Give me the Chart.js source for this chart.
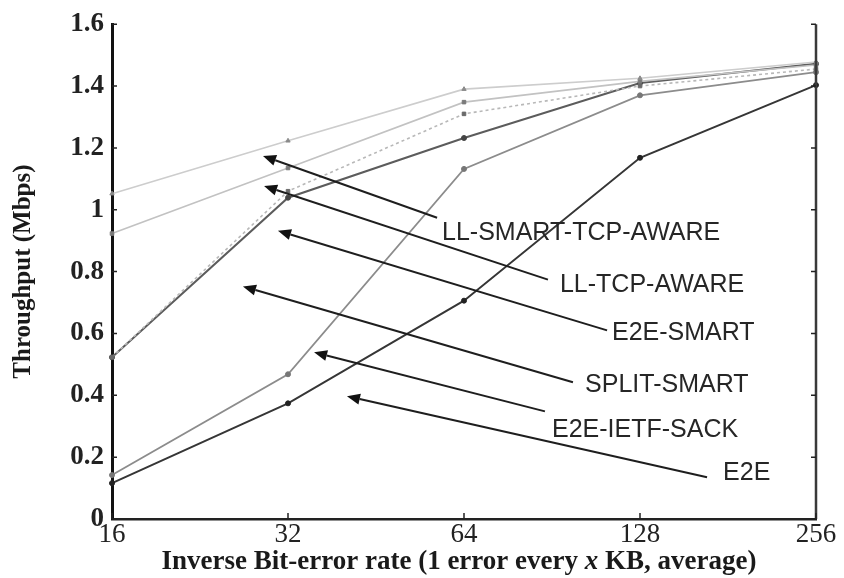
<!DOCTYPE html>
<html>
<head>
<meta charset="utf-8">
<script src="https://cdn.jsdelivr.net/npm/chart.js@4/dist/chart.umd.min.js"></script>
<style>
  html, body { margin: 0; padding: 0; background: #fff; }
  #wrap { width: 844px; height: 578px; }
</style>
</head>
<body>
<div id="wrap"><canvas id="c" width="844" height="578"></canvas></div>
<script>
// Inverse bit-error rate (1 error every x KB)
const errorSpacingKB = ['16', '32', '64', '128', '256'];

// Throughput in Mbps for each scheme
const llSmartTcpAware = [1.052, 1.223, 1.390, 1.425, 1.478];
const llTcpAware      = [0.923, 1.135, 1.348, 1.415, 1.468];
const splitSmart      = [0.523, 1.060, 1.310, 1.400, 1.455];
const e2eSmart        = [0.523, 1.039, 1.232, 1.410, 1.472];
const e2eIetfSack     = [0.142, 0.468, 1.132, 1.370, 1.445];
const e2e             = [0.116, 0.374, 0.706, 1.168, 1.403];

// Callout labels with arrows, in axis units (category index, Mbps)
const calloutText = ['LL-SMART-TCP-AWARE', 'LL-TCP-AWARE', 'E2E-SMART', 'SPLIT-SMART', 'E2E-IETF-SACK', 'E2E'];
const calloutTip  = [[0.858, 1.174], [0.864, 1.077], [0.943, 0.932], [0.744, 0.752], [1.148, 0.539], [1.335, 0.397]];
const calloutTail = [[1.847, 0.974], [2.477, 0.774], [2.813, 0.610], [2.619, 0.442], [2.460, 0.348], [3.381, 0.135]];
const calloutAt   = [[1.875, 0.926], [2.545, 0.755], [2.841, 0.600], [2.688, 0.432], [2.500, 0.287], [3.472, 0.148]];

const serif = "'Liberation Serif', 'DejaVu Serif', serif";
const sans = "'Liberation Sans', Arial, sans-serif";

function series(label, data, color, width, style, dash, pointColor) {
  return {
    label, data,
    borderColor: color,
    borderWidth: width,
    borderDash: dash || [],
    pointStyle: style,
    pointRadius: 2.5,
    pointBackgroundColor: pointColor,
    pointBorderColor: pointColor,
    pointBorderWidth: 1,
    tension: 0,
    fill: false
  };
}

// Inward tick marks, right frame line, callouts and the mixed-style x title
const decorations = {
  id: 'decorations',
  afterDraw(chart) {
    const { ctx, chartArea: a, scales: { x, y } } = chart;
    ctx.save();

    // right frame
    ctx.strokeStyle = '#3a3a3a';
    ctx.lineWidth = 2.5;
    ctx.beginPath();
    ctx.moveTo(a.right, a.top);
    ctx.lineTo(a.right, a.bottom);
    ctx.stroke();

    // inward ticks on left and right
    ctx.strokeStyle = '#222';
    ctx.lineWidth = 1.5;
    y.ticks.forEach(t => {
      const py = y.getPixelForValue(t.value);
      ctx.beginPath();
      ctx.moveTo(a.left, py); ctx.lineTo(a.left + 5, py);
      ctx.moveTo(a.right, py); ctx.lineTo(a.right - 5, py);
      ctx.stroke();
    });
    // inward ticks on bottom
    x.ticks.forEach((t, i) => {
      const px = x.getPixelForValue(i);
      ctx.beginPath();
      ctx.moveTo(px, a.bottom); ctx.lineTo(px, a.bottom - 6);
      ctx.stroke();
    });

    // callout arrows
    ctx.strokeStyle = '#1e1e1e';
    ctx.fillStyle = '#111';
    ctx.lineWidth = 2;
    calloutText.forEach((txt, i) => {
      const tx = x.getPixelForValue(calloutTip[i][0]);
      const ty = y.getPixelForValue(calloutTip[i][1]);
      const sx = x.getPixelForValue(calloutTail[i][0]);
      const sy = y.getPixelForValue(calloutTail[i][1]);
      const ang = Math.atan2(ty - sy, tx - sx);
      const headLen = 13, headHalf = 5.5;
      const bx = tx - headLen * Math.cos(ang), by = ty - headLen * Math.sin(ang);
      ctx.beginPath();
      ctx.moveTo(sx, sy); ctx.lineTo(bx, by);
      ctx.stroke();
      ctx.beginPath();
      ctx.moveTo(tx, ty);
      ctx.lineTo(bx + headHalf * Math.sin(ang), by - headHalf * Math.cos(ang));
      ctx.lineTo(bx - headHalf * Math.sin(ang), by + headHalf * Math.cos(ang));
      ctx.closePath();
      ctx.fill();

      ctx.font = '25px ' + sans;
      ctx.fillStyle = '#262626';
      ctx.textAlign = 'left';
      ctx.textBaseline = 'middle';
      ctx.fillText(txt, x.getPixelForValue(calloutAt[i][0]), y.getPixelForValue(calloutAt[i][1]));
      ctx.fillStyle = '#111';
    });

    // x axis title with italic variable
    const size = 27;
    const parts = [
      ['Inverse Bit-error rate (1 error every ', 'bold ' + size + 'px ' + serif],
      ['x', 'italic bold ' + size + 'px ' + serif],
      [' KB, average)', 'bold ' + size + 'px ' + serif]
    ];
    let total = 0;
    parts.forEach(p => { ctx.font = p[1]; total += ctx.measureText(p[0]).width; });
    let cx = (a.left + a.right) / 2 - 5 - total / 2;
    const cy = x.bottom - 16;
    ctx.fillStyle = '#1a1a1a';
    ctx.textBaseline = 'middle';
    ctx.textAlign = 'left';
    parts.forEach(p => {
      ctx.font = p[1];
      ctx.fillText(p[0], cx, cy);
      cx += ctx.measureText(p[0]).width;
    });
    ctx.restore();
  }
};

new Chart(document.getElementById('c'), {
  type: 'line',
  data: {
    labels: errorSpacingKB,
    datasets: [
      series('LL-SMART-TCP-AWARE', llSmartTcpAware, '#cdcdcd', 1.6, 'triangle', null, '#8a8a8a'),
      series('LL-TCP-AWARE', llTcpAware, '#c2c2c2', 1.6, 'rect', null, '#7a7a7a'),
      series('SPLIT-SMART', splitSmart, '#b8b8b8', 1.6, 'rect', [3, 3], '#6a6a6a'),
      series('E2E-SMART', e2eSmart, '#5c5c5c', 2, 'circle', null, '#444'),
      series('E2E-IETF-SACK', e2eIetfSack, '#8c8c8c', 1.8, 'circle', null, '#777'),
      series('E2E', e2e, '#363636', 2, 'circle', null, '#222')
    ]
  },
  options: {
    responsive: false,
    animation: false,
    layout: { padding: { top: 23, right: 28, left: 0, bottom: 0 } },
    plugins: { legend: { display: false }, tooltip: { enabled: false } },
    scales: {
      x: {
        type: 'category',
        offset: false,
        grid: { display: false, drawTicks: false },
        border: { display: true, color: '#222', width: 2.5 },
        ticks: {
          padding: 0,
          color: '#222',
          font: { family: serif, size: 27 },
          maxRotation: 0,
          autoSkip: false
        },
        afterFit(scale) { scale.height = 59; }
      },
      y: {
        min: 0, max: 1.6,
        grid: { display: false, drawTicks: false },
        border: { display: true, color: '#111', width: 3 },
        ticks: {
          stepSize: 0.2,
          padding: 8,
          color: '#222',
          font: { family: serif, size: 27, weight: 'bold' },
          callback: v => String(Number(v.toFixed(1)))
        },
        title: {
          display: true,
          text: 'Throughput (Mbps)',
          color: '#1a1a1a',
          font: { family: serif, size: 25, weight: 'bold' },
          padding: { top: 9, bottom: 0 }
        },
        afterFit(scale) { scale.width = 112; }
      }
    }
  },
  plugins: [decorations]
});
</script>
</body>
</html>
